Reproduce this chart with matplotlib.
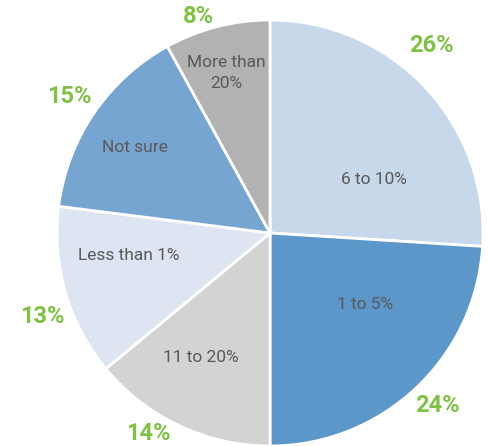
import numpy as np
import matplotlib.pyplot as plt
from matplotlib import font_manager

# data
categories = ["6 to 10%", "1 to 5%", "11 to 20%", "Less than 1%", "Not sure", "More than\n20%"]
shares = [26, 24, 14, 13, 15, 8]
colors = ["#c8d8eb", "#5b97c9", "#d3d3d3", "#dee5f2", "#76a5d1", "#b2b2b3"]

# label layout (radius as fraction of pie radius, angle offset in degrees)
inner_r = [0.55, 0.56, 0.67, 0.67, 0.75, 0.78]
inner_da = [-16, 10, -4, -7, 2, 1]
outer_r = [1.16, 1.13, 1.10, 1.14, 1.14, 1.07]
outer_da = [6, 1, -6, 4, 0, 4]

names = {f.name for f in font_manager.fontManager.ttflist}
fam = [f for f in ["Liberation Sans Narrow", "Roboto", "DejaVu Sans"] if f in names]
plt.rcParams["font.family"] = fam

fig = plt.figure(figsize=(4.89, 4.46), dpi=100)
ax = fig.add_axes([0, 0, 1, 1])

cx, cy, R = 270, 213, 213
wedges, _ = ax.pie(
    shares, colors=colors, startangle=90, counterclock=False,
    center=(cx, cy), radius=R, frame=True,
    wedgeprops=dict(edgecolor="white", linewidth=2),
)
ax.set_xlim(0, 489)
ax.set_ylim(0, 446)
ax.set_aspect("equal")
ax.axis("off")

for i, w in enumerate(wedges):
    mid = (w.theta1 + w.theta2) / 2
    a = np.deg2rad(mid + inner_da[i])
    ax.text(cx + inner_r[i] * R * np.cos(a), cy + inner_r[i] * R * np.sin(a), categories[i],
            ha="center", va="center", color="#595959", fontsize=12.5, linespacing=1.5)
    a = np.deg2rad(mid + outer_da[i])
    ax.text(cx + outer_r[i] * R * np.cos(a), cy + outer_r[i] * R * np.sin(a), "%d%%" % shares[i],
            ha="center", va="center", color="#7dc242", fontsize=17, fontweight="bold")

fig.savefig("out.png", dpi=100)
